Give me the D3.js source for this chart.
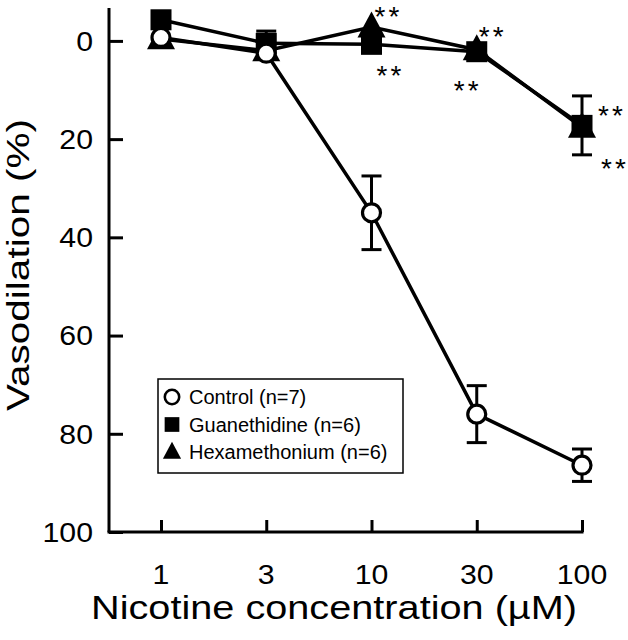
<!DOCTYPE html>
<html>
<head>
<meta charset="utf-8">
<script src="https://cdn.jsdelivr.net/npm/d3@7"></script>
<style>
  html, body { margin: 0; padding: 0; background: #fff; }
  svg { display: block; font-family: "Liberation Sans", Arial, Helvetica, sans-serif; }
</style>
</head>
<body>
<svg id="chart" width="628" height="640"></svg>
<script>
// ---- data ----
const concentrations = ["1", "3", "10", "30", "100"];
const controlMean = [-0.7, 2.5, 35, 76, 86.4];
const controlErr  = [0, 0, 7.5, 5.8, 3.3];
const guanMean = [-4.3, 0.5, 0.7, 2.2, 17.2];
const guanErr  = [0, 2.5, 0, 0, 6];
const hexMean = [-0.4, 2.0, -2.8, 1.8, 17.6];
const hexErr  = [0, 0, 0, 0, 0];
const yTicks = [0, 20, 40, 60, 80, 100];
const legendLabels = ["Control (n=7)", "Guanethidine (n=6)", "Hexamethonium (n=6)"];
const sigCats   = ["10", "10", "30", "30", "100", "100"];
const sigValues = [-6.4, 5.7, -2.3, 8.7, 13.7, 24.5];
const sigDx     = [3, 5, 2, -23, 16, 19];

// ---- layout ----
const svg = d3.select("#chart");
const axisX = 109, axisBottom = 532, axisTop = 8, axisRight = 582;
const x = d3.scalePoint().domain(concentrations).range([161, 582]);
const y = d3.scaleLinear().domain([-6.7, 100]).range([axisTop, axisBottom]);
const widen = 1.12;
function stretch(sel, factor) {
  sel.each(function () {
    const w = this.getComputedTextLength();
    d3.select(this).attr("textLength", w * factor).attr("lengthAdjust", "spacingAndGlyphs");
  });
}

const g = svg.append("g");

// axes lines
g.append("line").attr("x1", axisX).attr("x2", axisX).attr("y1", axisTop).attr("y2", axisBottom)
  .attr("stroke", "#000").attr("stroke-width", 3);
g.append("line").attr("x1", axisX - 1.5).attr("x2", axisRight + 1.5).attr("y1", axisBottom).attr("y2", axisBottom)
  .attr("stroke", "#000").attr("stroke-width", 3);

// y axis
const yAxis = d3.axisRight(y).tickValues(yTicks).tickSize(14).tickFormat("");
const ya = g.append("g").attr("transform", `translate(${axisX},0)`).call(yAxis);
ya.select(".domain").remove();
ya.selectAll(".tick line").attr("stroke", "#000").attr("stroke-width", 3);
const yl = g.selectAll(".ylab").data(yTicks).enter().append("text")
  .attr("x", 93).attr("y", d => y(d)).attr("text-anchor", "end").attr("dy", "0.36em")
  .attr("font-size", 27).text(d => d);
stretch(yl, widen);

// x axis
const xAxis = d3.axisTop(x).tickSize(12).tickFormat("");
const xa = g.append("g").attr("transform", `translate(0,${axisBottom})`).call(xAxis);
xa.select(".domain").remove();
xa.selectAll(".tick line").attr("stroke", "#000").attr("stroke-width", 3);
const xl = g.selectAll(".xlab").data(concentrations).enter().append("text")
  .attr("x", d => x(d)).attr("y", 574).attr("text-anchor", "middle").attr("dy", "0.36em")
  .attr("font-size", 27).text(d => d);
stretch(xl, widen);

// titles
g.append("text").attr("x", 334).attr("y", 607).attr("text-anchor", "middle").attr("dy", "0.36em")
  .attr("font-size", 33).attr("textLength", 486).attr("lengthAdjust", "spacingAndGlyphs")
  .text("Nicotine concentration (\u00B5M)");
g.append("text").attr("transform", "translate(18,265) rotate(-90)").attr("text-anchor", "middle").attr("dy", "0.36em")
  .attr("font-size", 31).attr("textLength", 292).attr("lengthAdjust", "spacingAndGlyphs")
  .text("Vasodilation (%)");

// series
const series = [
  { mean: hexMean, err: hexErr, shape: "triangle" },
  { mean: guanMean, err: guanErr, shape: "square" },
  { mean: controlMean, err: controlErr, shape: "circle" }
];
const line = d3.line().x((d, i) => x(concentrations[i])).y(d => y(d));

series.forEach(s => {
  g.append("path").attr("d", line(s.mean)).attr("fill", "none").attr("stroke", "#000").attr("stroke-width", 3.5);
});
series.forEach(s => {
  s.mean.forEach((m, i) => {
    const e = s.err[i];
    if (!e) return;
    const cx = x(concentrations[i]);
    g.append("line").attr("x1", cx).attr("x2", cx).attr("y1", y(m - e)).attr("y2", y(m + e)).attr("stroke", "#000").attr("stroke-width", 3);
    [m - e, m + e].forEach(v => {
      g.append("line").attr("x1", cx - 10).attr("x2", cx + 10).attr("y1", y(v)).attr("y2", y(v)).attr("stroke", "#000").attr("stroke-width", 3);
    });
  });
});

function drawMarker(sel, shape, cx, cy, scale) {
  scale = scale || 1;
  if (shape === "circle") {
    sel.append("circle").attr("cx", cx).attr("cy", cy).attr("r", 9 * scale)
      .attr("fill", "#fff").attr("stroke", "#000").attr("stroke-width", 3.2 * Math.max(scale, 0.7));
  } else if (shape === "square") {
    const s = 21 * scale;
    sel.append("rect").attr("x", cx - s / 2).attr("y", cy - s / 2).attr("width", s).attr("height", s).attr("fill", "#000");
  } else {
    const w = 28 * scale, h = 26 * scale;
    sel.append("path").attr("d", `M${cx},${cy - h * 0.6}L${cx + w / 2},${cy + h * 0.4}L${cx - w / 2},${cy + h * 0.4}Z`).attr("fill", "#000");
  }
}
series.forEach(s => {
  s.mean.forEach((m, i) => drawMarker(g, s.shape, x(concentrations[i]), y(m)));
});

// significance marks
g.selectAll(".sig").data(sigCats).enter().append("text")
  .attr("x", (d, i) => x(d) + sigDx[i]).attr("y", (d, i) => y(sigValues[i]))
  .attr("dy", "0.585em").attr("font-size", 28).attr("letter-spacing", 3).text("**");

// legend
const lg = g.append("g");
lg.append("rect").attr("x", 158).attr("y", 379).attr("width", 245).attr("height", 94)
  .attr("fill", "#fff").attr("stroke", "#000").attr("stroke-width", 1.5);
const legendShapes = ["circle", "square", "triangle"];
const legendScale = [0.8, 0.7, 0.65];
legendLabels.forEach((lab, i) => {
  const ly = 397 + i * 27.5;
  drawMarker(lg, legendShapes[i], 172, ly, legendScale[i]);
  lg.append("text").attr("x", 189).attr("y", ly).attr("dy", "0.36em").attr("font-size", 20).text(lab);
});
</script>
</body>
</html>
